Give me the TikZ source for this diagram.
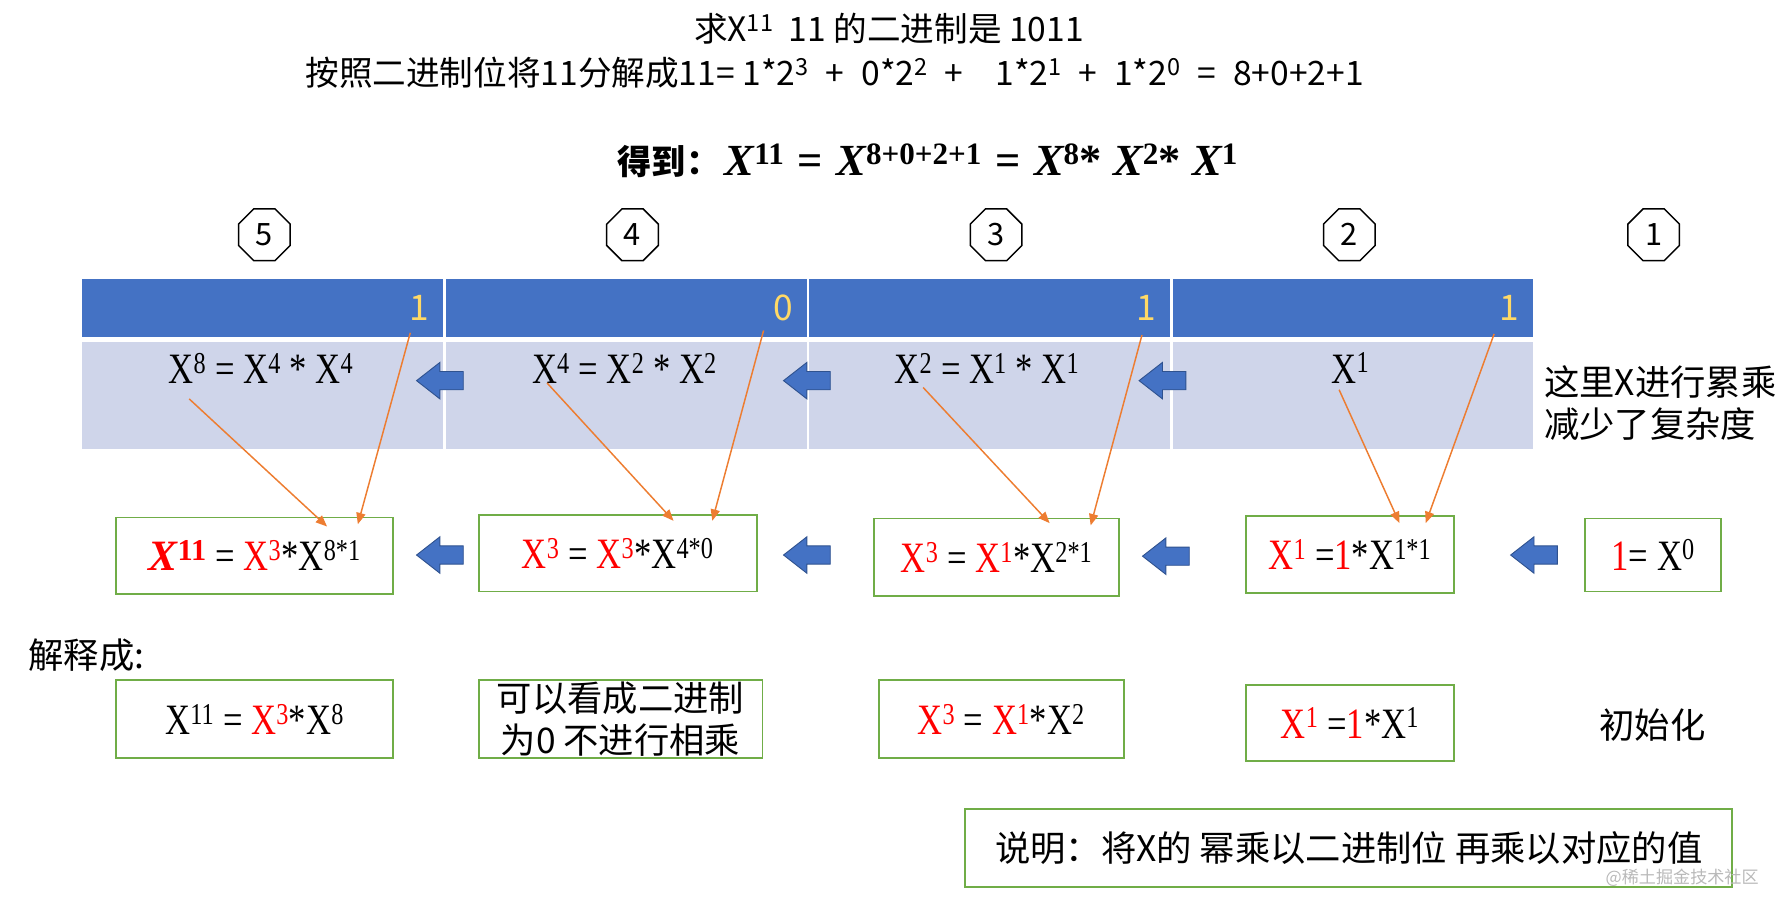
\documentclass[tikz,border=0pt]{standalone}
\usepackage[no-math]{fontspec}
\setmainfont{Noto Sans CJK SC}
\newfontfamily\xf[FakeStretch=0.8]{Liberation Serif}
\newfontfamily\bxf{Liberation Serif}
\usetikzlibrary{shapes.geometric,arrows.meta,calc}
\definecolor{bbar}{HTML}{4472C4}
\definecolor{lbar}{HTML}{CFD5EA}
\definecolor{ylw}{HTML}{FFD966}
\definecolor{grn}{HTML}{70AD47}
\definecolor{org}{HTML}{ED7D31}
\definecolor{abord}{HTML}{2F528F}
\newcommand{\spx}[1]{\textsuperscript{#1}}
\newcommand{\rd}[1]{\textcolor{red}{#1}}
\newcommand{\bX}[1]{{\itshape X}\textsuperscript{#1}}
\newcommand{\fwcolon}{\char"FF1A\relax}
\newcommand{\op}[1]{\enspace#1\enspace}
\newcommand{\bop}[1]{\hspace{0.3em}#1\hspace{0.3em}}
\begin{document}
\begin{tikzpicture}[x=1pt,y=-1pt,
  every node/.style={inner sep=0pt,outer sep=0pt},
  tt/.style={font=\fontsize{29.5}{36}\selectfont},
  ct/.style={font=\fontsize{31}{37}\selectfont},
  bt/.style={font=\fontsize{30}{36}\selectfont\bfseries},
  bft/.style={font=\bxf\fontsize{39}{40}\selectfont\bfseries},
  oct/.style={draw,line width=1.3,regular polygon,regular polygon sides=8,minimum size=49,font=\fontsize{27}{30}\selectfont},
  dig/.style={text=ylw,font=\fontsize{31}{32}\selectfont},
  fx/.style={font=\xf\fontsize{38}{40}\selectfont},
  gbox/.style={draw=grn,line width=1.6,align=center},
  oarr/.style={draw=org,line width=1.3,-{Triangle[length=10,width=8]}}
]
\useasboundingbox (0,0) rectangle (1568,800);

% titles
\node[tt] (t1) at (780,25) {求X\spx{11}\ \ 11 的二进制是 1011};
\node[tt,anchor=west] (t2) at (268,64) {按照二进制位将11分解成11= 1*2\spx{3}\op{+}0*2\spx{2}\op{+}\ \ 1*2\spx{1}\op{+}1*2\spx{0}\op{=}8+0+2+1};
\node[bt,anchor=east] (t3a) at (632,142) {得到\fwcolon};
\node[bft,anchor=west] (t3b) at (636,140) {\bX{11}\bop{=}\bX{8+0+2+1}\bop{=}\bX{8}* \bX{2}* \bX{1}};

% octagons
\node[oct] (o5) at (232,206) {5};
\node[oct] (o4) at (555,206) {4};
\node[oct] (o3) at (874,206) {3};
\node[oct] (o2) at (1184,206) {2};
\node[oct] (o1) at (1451,206) {1};

% bars
\fill[bbar] (72,245) rectangle (1345,296);
\fill[lbar] (72,300) rectangle (1345,394);
\foreach \xx in {390,709,1028}{\draw[white,line width=2] (\xx,245) -- (\xx,394);}

\node[dig] (d5) at (368,270) {1};
\node[dig] (d4) at (687,270) {0};
\node[dig] (d3) at (1006,270) {1};
\node[dig] (d2) at (1324,270) {1};

\node[fx] (f5) at (229,323) {X\spx{8} = X\spx{4} * X\spx{4}};
\node[fx] (f4) at (548,323) {X\spx{4} = X\spx{2} * X\spx{2}};
\node[fx] (f3) at (866,323) {X\spx{2} = X\spx{1} * X\spx{1}};
\node[fx] (f2) at (1185,323) {X\spx{1}};

% blue block arrows
\foreach \ax/\ay in {386/334,708/334,1020/334,386/487,708/487,1023/488,1346/487}{
  \path[fill=bbar,draw=abord,line width=0.8]
     (\ax+20.5,\ay-8) -- (\ax,\ay-8) -- (\ax,\ay-16) -- (\ax-20.5,\ay) -- (\ax,\ay+16) -- (\ax,\ay+8) -- (\ax+20.5,\ay+8) -- cycle;
}

\node[ct,anchor=west,align=left] (note) at (1355,354) {这里X进行累乘\\减少了复杂度};

% row 2 boxes
\node[gbox,fx,minimum width=243,minimum height=67] (r1) at (223.5,487.5) {\rd{\bxf\bfseries\itshape X\spx{\upshape 11}} = \rd{X\spx{3}}*X\spx{8*1}};
\node[gbox,fx,minimum width=244,minimum height=67] (r2) at (542,485.5) {\rd{X\spx{3}} = \rd{X\spx{3}}*X\spx{4*0}};
\node[gbox,fx,minimum width=215,minimum height=68] (r3) at (874.5,489) {\rd{X\spx{3}} = \rd{X\spx{1}}*X\spx{2*1}};
\node[gbox,fx,minimum width=183,minimum height=67] (r4) at (1184.5,486.5) {\rd{X\spx{1}} =\rd{1}*X\spx{1*1}};
\node[gbox,fx,minimum width=119,minimum height=64] (r5) at (1450.5,487) {\rd{1}= X\spx{0}};

% orange connectors
\coordinate (s1) at (166,350); \coordinate (e1) at (287,462);
\coordinate (s2) at (360,292); \coordinate (e2) at (314,460);
\coordinate (s3) at (480,336); \coordinate (e3) at (591,457);
\coordinate (s4) at (670,290); \coordinate (e4) at (625,457);
\coordinate (s5) at (810,340); \coordinate (e5) at (921,459);
\coordinate (s6) at (1002,294); \coordinate (e6) at (957,461);
\coordinate (s7) at (1175,342); \coordinate (e7) at (1228,459);
\coordinate (s8) at (1311,293); \coordinate (e8) at (1251,459);
\foreach \i in {1,...,8}{\draw[oarr] (s\i) -- (e\i);}

% row 3
\node[ct,anchor=west] (lab) at (25,575) {解释成:};
\node[gbox,fx,minimum width=243,minimum height=68] (q1) at (223.5,631) {X\spx{11} = \rd{X\spx{3}}*X\spx{8}};
\node[gbox,ct,minimum width=249,minimum height=68] (q2) at (544.5,631) {可以看成二进制\\为0 不进行相乘};
\node[gbox,fx,minimum width=215,minimum height=68] (q3) at (878.5,631) {\rd{X\spx{3}} = \rd{X\spx{1}}*X\spx{2}};
\node[gbox,fx,minimum width=183,minimum height=67] (q4) at (1184.5,634.5) {\rd{X\spx{1}} =\rd{1}*X\spx{1}};
\node[ct] (init) at (1450,636) {初始化};

\node[gbox,ct,minimum width=673,minimum height=68] (expl) at (1183.5,744) {说明\fwcolon 将X的 幂乘以二进制位 再乘以对应的值};
\node[font=\fontsize{15}{18}\selectfont,text=gray!55] (wm) at (1476,770) {@稀土掘金技术社区};
\end{tikzpicture}
\end{document}
